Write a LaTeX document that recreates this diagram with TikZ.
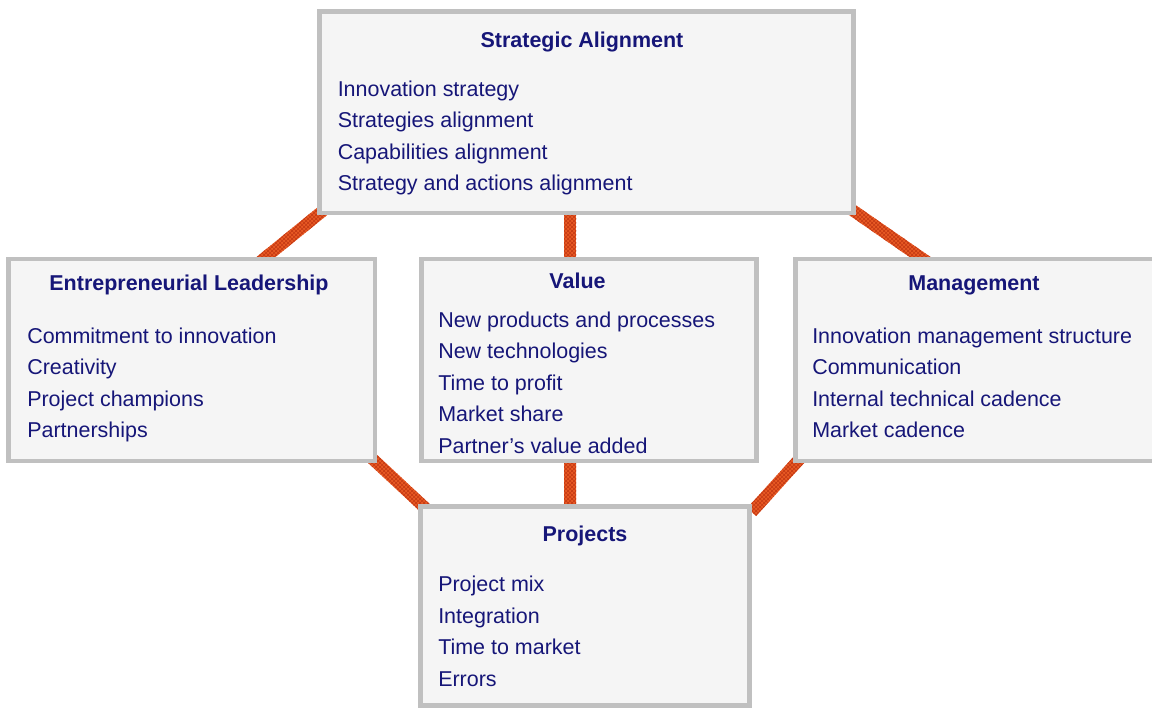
\documentclass[tikz,border=0pt]{standalone}
\usepackage{fontspec}
\setmainfont{Liberation Sans}
\usetikzlibrary{calc,fit,patterns,backgrounds}
\definecolor{txtblue}{RGB}{22,22,120}
\definecolor{boxgray}{RGB}{192,192,192}
\definecolor{boxfill}{RGB}{245,245,245}
\definecolor{conbase}{RGB}{232,90,36}
\definecolor{conhatch}{RGB}{196,56,20}
\newcommand\conline[2]{%
  \fill[conbase] ($(#1)!4.5pt!90:(#2)$) -- ($(#1)!4.5pt!-90:(#2)$) -- ($(#2)!4.5pt!90:(#1)$) -- ($(#2)!4.5pt!-90:(#1)$) -- cycle;
  \fill[pattern=crosshatch, pattern color=conhatch] ($(#1)!4.5pt!90:(#2)$) -- ($(#1)!4.5pt!-90:(#2)$) -- ($(#2)!4.5pt!90:(#1)$) -- ($(#2)!4.5pt!-90:(#1)$) -- cycle;}
\begin{document}
\begin{tikzpicture}[x=0.75pt,y=-0.75pt,
  box/.style={draw=boxgray, line width=3.4pt, fill=boxfill, inner sep=0pt, outer sep=0pt},
  title/.style={font=\fontsize{16.1pt}{19pt}\selectfont\bfseries, text=txtblue, anchor=base, inner sep=0pt},
  item/.style={font=\fontsize{16.1pt}{19pt}\selectfont, text=txtblue, anchor=base west, inner sep=0pt}]
\useasboundingbox (0,0) rectangle (1152,707);
\clip (0,0) rectangle (1152,707);

% boxes
\node[box, fit={(319.7,11.3) (853.6,213.2)}] (sa) {};
\node[box, fit={(8.3,259.1) (375.1,460.9)}] (el) {};
\node[box, fit={(421.3,259.1) (756.7,460.9)}] (val) {};
\node[box, fit={(795.3,259.1) (1162,460.9)}] (mg) {};
\node[box, fit={(420.5,506.5) (749.5,705.6)}] (pr) {};

% connectors (behind the boxes)
\coordinate (c1a) at ($(sa.south west)+(10.3,-8.2)$);
\coordinate (c1b) at ($(el.north east)+(-116.5,3.9)$);
\coordinate (c2a) at ($(sa.south west)+(250.3,-8.2)$);
\coordinate (c2b) at ($(val.north west)+(148.7,6)$);
\coordinate (c3a) at ($(sa.south east)+(-7.1,-7.2)$);
\coordinate (c3b) at ($(mg.north west)+(133.4,3.9)$);
\coordinate (c4a) at ($(el.south east)+(-5.6,-4.9)$);
\coordinate (c4b) at ($(pr.north west)+(7.9,4.5)$);
\coordinate (c5a) at ($(val.south west)+(148.7,-6)$);
\coordinate (c5b) at ($(pr.north west)+(149.5,5.5)$);
\coordinate (c6a) at ($(mg.south west)+(8,-6)$);
\coordinate (c6b) at ($(pr.north east)+(2.2,5.5)$);
\begin{pgfonlayer}{background}
\fill[white] (0,0) rectangle (1152,707);
\conline{c1a}{c1b}
\conline{c2a}{c2b}
\conline{c3a}{c3b}
\conline{c4a}{c4b}
\conline{c5a}{c5b}
\conline{c6a}{c6b}
\end{pgfonlayer}

% Strategic Alignment
\node[title] (sat) at (582,47) {Strategic Alignment};
\node[item] (sa1) at (337.5,96) {Innovation strategy};
\node[item] (sa2) at (337.5,127.5) {Strategies alignment};
\node[item] (sa3) at (337.5,159) {Capabilities alignment};
\node[item] (sa4) at (337.5,190.5) {Strategy and actions alignment};

% Entrepreneurial Leadership
\node[title] (elt) at (189,290.5) {Entrepreneurial Leadership};
\node[item] (el1) at (27,343) {Commitment to innovation};
\node[item] (el2) at (27,374.5) {Creativity};
\node[item] (el3) at (27,406) {Project champions};
\node[item] (el4) at (27,437.5) {Partnerships};

% Value
\node[title] (valt) at (577.5,288) {Value};
\node[item] (v1) at (438,327) {New products and processes};
\node[item] (v2) at (438,358.5) {New technologies};
\node[item] (v3) at (438,390) {Time to profit};
\node[item] (v4) at (438,421.5) {Market share};
\node[item] (v5) at (438,453) {Partner’s value added};

% Management
\node[title] (mgt) at (974,290.5) {Management};
\node[item] (m1) at (812,343) {Innovation management structure};
\node[item] (m2) at (812,374.5) {Communication};
\node[item] (m3) at (812,406) {Internal technical cadence};
\node[item] (m4) at (812,437.5) {Market cadence};

% Projects
\node[title] (prt) at (585,541) {Projects};
\node[item] (p1) at (438,591) {Project mix};
\node[item] (p2) at (438,623) {Integration};
\node[item] (p3) at (438,654.5) {Time to market};
\node[item] (p4) at (438,686) {Errors};
\end{tikzpicture}
\end{document}
